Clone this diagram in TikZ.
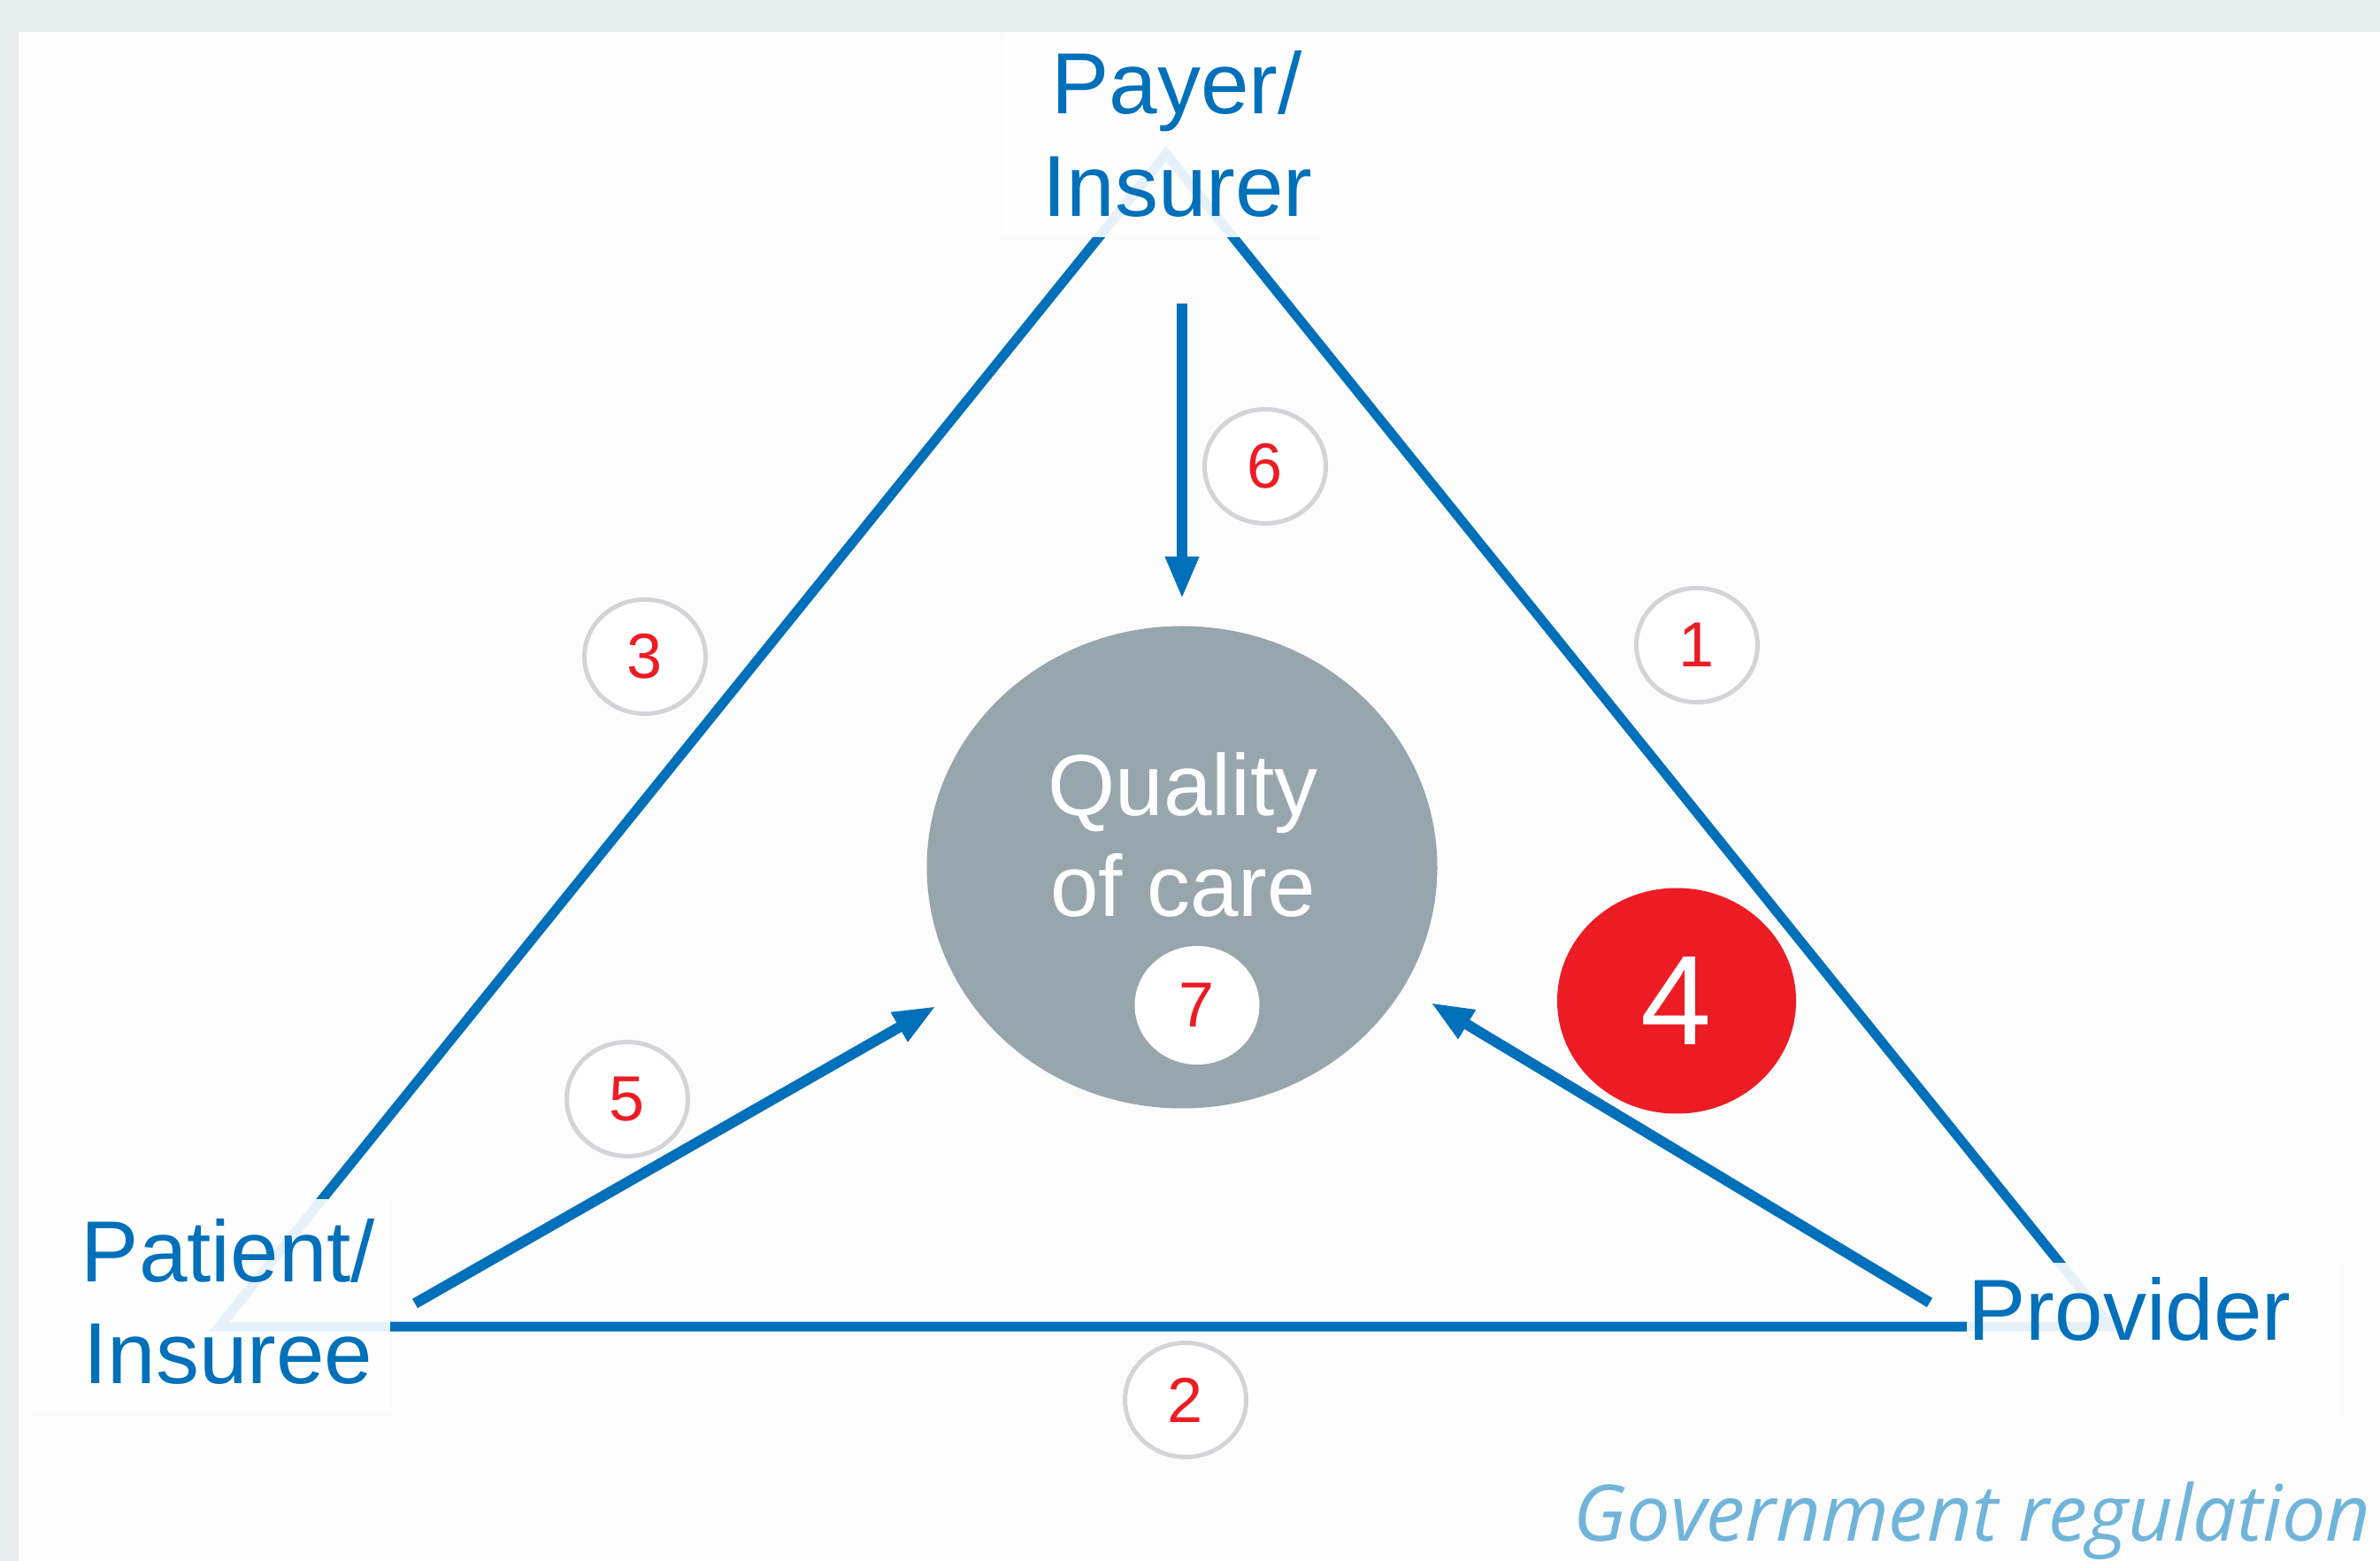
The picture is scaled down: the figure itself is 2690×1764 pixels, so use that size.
\documentclass[tikz,border=0pt]{standalone}
\usepackage{fontspec}
\setmainfont{Liberation Sans}
\newfontfamily\govfont{Open Sans}
\usetikzlibrary{arrows.meta,shapes.geometric}
\definecolor{mainblue}{RGB}{0,112,186}
\definecolor{numred}{RGB}{237,28,36}
\definecolor{qgray}{RGB}{151,166,173}
\definecolor{circgray}{RGB}{211,212,215}
\definecolor{bggray}{RGB}{230,235,238}
\definecolor{panel}{RGB}{252,252,252}
\definecolor{govblue}{RGB}{112,180,218}
\tikzset{
  labelbox/.style={fill=white, fill opacity=0.9, draw=none},
  bigtext/.style={anchor=base, text=mainblue, inner sep=0pt, font=\fontsize{49}{58}\selectfont},
  qtext/.style={anchor=base, text=white, inner sep=0pt, font=\fontsize{49}{58}\selectfont},
  numcirc/.style={ellipse, draw=circgray, line width=2.5pt, fill=white, inner sep=0pt,
    minimum width=68.5pt, minimum height=64.5pt, text=numred, font=\fontsize{36}{40}\selectfont},
  edge/.style={draw=mainblue, line width=5.5pt, line join=miter},
  flow/.style={draw=mainblue, line width=6pt, -{Triangle[length=24pt,width=17.5pt]}}
}
\begin{document}
\begin{tikzpicture}[x=0.5pt,y=-0.5pt]
\useasboundingbox (0,0) rectangle (2690,1764);
\fill[bggray] (0,0) rectangle (2690,1764);
\fill[panel] (21,36) rectangle (2690,1764);
% triangle vertices
\coordinate (apex) at (1318,174);
\coordinate (bl) at (248,1499);
\coordinate (br) at (2386,1499);
\draw[edge] (apex) -- (bl) -- (br) -- cycle;
% label boxes
\fill[labelbox] (1133,38) rectangle (1492,268);
\fill[labelbox] (36,1355) rectangle (441,1597);
\fill[labelbox] (2223,1427) rectangle (2643,1600);
% labels
\node[bigtext] (payer1) at (1330,129) {Payer/};
\node[bigtext] (payer2) at (1331,245) {Insurer};
\node[bigtext] (patient1) at (258,1448) {Patient/};
\node[bigtext] (patient2) at (258,1563) {Insuree};
\node[bigtext] (provider) at (2407,1514) {Provider};
% quality of care
\node[ellipse, fill=qgray, inner sep=0pt, minimum width=288.5pt, minimum height=272.5pt] (qoc) at (1336,980) {};
\node[qtext] (q1) at (1337,922) {Quality};
\node[qtext] (q2) at (1337,1036) {of care};
\node[ellipse, fill=white, inner sep=0pt, minimum width=70.5pt, minimum height=67pt,
  text=numred, font=\fontsize{36}{40}\selectfont] (n7) at (1353,1136) {7};
% red 4
\node[ellipse, fill=numred, inner sep=0pt, minimum width=135pt, minimum height=127.5pt,
  text=white, font=\fontsize{72}{80}\selectfont] (n4) at (1895,1131) {4};
% numbered circles
\node[numcirc] (n6) at (1430,527) {6};
\node[numcirc] (n3) at (729,742) {3};
\node[numcirc] (n1) at (1918,729) {1};
\node[numcirc] (n5) at (709,1242) {5};
\node[numcirc] (n2) at (1340,1582) {2};
% arrows
\coordinate (a6s) at (1336,343);
\coordinate (a6e) at (1336,677);
\coordinate (a5s) at (469,1473);
\coordinate (a5e) at (1058,1137);
\coordinate (a4s) at (2181,1472);
\coordinate (a4e) at (1617,1133);
\draw[flow] (a6s) -- (a6e);
\draw[flow] (a5s) -- (a5e);
\draw[flow] (a4s) -- (a4e);
% government regulation
\node[anchor=base east, inner sep=0pt, text=govblue,
  font=\govfont\itshape\fontsize{44}{50}\selectfont] (gov) at (2680,1741) {Government regulation};
\end{tikzpicture}
\end{document}
